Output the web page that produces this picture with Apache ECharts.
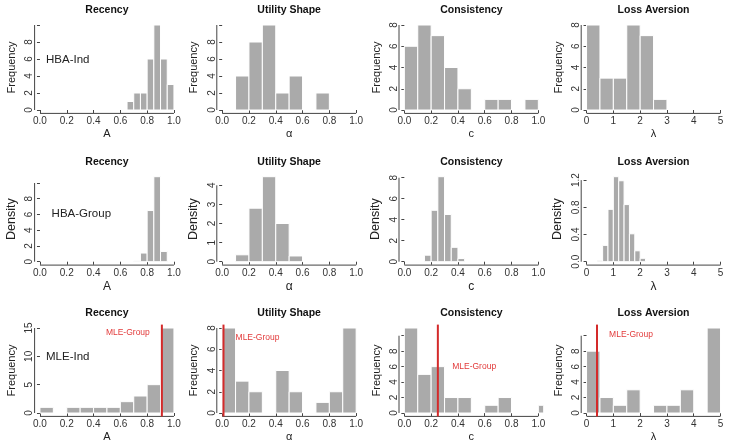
<!DOCTYPE html>
<html><head><meta charset="utf-8">
<script src="https://cdn.jsdelivr.net/npm/echarts@6/dist/echarts.min.js"></script>
<style>html,body{margin:0;padding:0;background:#fff}#c{width:729px;height:447px}</style>
</head><body><div id="c"></div>
<script>
// ---------- DATA ----------
const paramTitles = ['Recency', 'Utility Shape', 'Consistency', 'Loss Aversion'];
const paramSymbols = ['A', 'α', 'c', 'λ'];
const rowLabels = ['HBA-Ind', 'HBA-Group', 'MLE-Ind'];

const unitTicks = [0, 0.2, 0.4, 0.6, 0.8, 1.0];
const lambdaTicks = [0, 1, 2, 3, 4, 5];

// Row 1: HBA-Ind (frequency)
const hbaIndRecencyBreaks = [0.65, 0.70, 0.75, 0.80, 0.85, 0.90, 0.95, 1.00];
const hbaIndRecencyCounts = [1, 2, 2, 6, 10, 6, 3];
const hbaIndUtilityBreaks = [0.1, 0.2, 0.3, 0.4, 0.5, 0.6, 0.7, 0.8];
const hbaIndUtilityCounts = [4, 8, 10, 2, 4, 0, 2];
const hbaIndConsistBreaks = [0, 0.1, 0.2, 0.3, 0.4, 0.5, 0.6, 0.7, 0.8, 0.9, 1.0];
const hbaIndConsistCounts = [6, 8, 7, 4, 2, 0, 1, 1, 0, 1];
const hbaIndLossBreaks = [0, 0.5, 1.0, 1.5, 2.0, 2.5, 3.0];
const hbaIndLossCounts = [8, 3, 3, 8, 7, 1];

// Row 2: HBA-Group (density)
const hbaGrpRecencyBreaks = [0.70, 0.75, 0.80, 0.85, 0.90, 0.95];
const hbaGrpRecencyDens = [0.1, 1.1, 6.5, 10.8, 1.3];
const hbaGrpUtilityBreaks = [0.1, 0.2, 0.3, 0.4, 0.5, 0.6];
const hbaGrpUtilityDens = [0.36, 2.8, 4.45, 2.0, 0.3];
const hbaGrpConsistBreaks = [0.15, 0.20, 0.25, 0.30, 0.35, 0.40, 0.45];
const hbaGrpConsistDens = [0.62, 4.9, 8.1, 4.5, 1.37, 0.3];
const hbaGrpLossBreaks = [0.4, 0.6, 0.8, 1.0, 1.2, 1.4, 1.6, 1.8, 2.0, 2.2];
const hbaGrpLossDens = [0.02, 0.24, 0.77, 1.25, 1.19, 0.84, 0.41, 0.16, 0.05];

// Row 3: MLE-Ind (frequency) + MLE-Group estimate
const mleIndRecencyBreaks = [0, 0.1, 0.2, 0.3, 0.4, 0.5, 0.6, 0.7, 0.8, 0.9, 1.0];
const mleIndRecencyCounts = [1, 0, 1, 1, 1, 1, 2, 3, 5, 15];
const mleIndUtilityBreaks = [0, 0.1, 0.2, 0.3, 0.4, 0.5, 0.6, 0.7, 0.8, 0.9, 1.0];
const mleIndUtilityCounts = [8, 3, 2, 0, 4, 2, 0, 1, 2, 8];
const mleIndConsistBreaks = [0, 0.1, 0.2, 0.3, 0.4, 0.5, 0.6, 0.7, 0.8, 0.9, 1.0, 1.1];
const mleIndConsistCounts = [11, 5, 6, 2, 2, 0, 1, 2, 0, 0, 1];
const mleIndLossBreaks = [0, 0.5, 1.0, 1.5, 2.0, 2.5, 3.0, 3.5, 4.0, 4.5, 5.0];
const mleIndLossCounts = [8, 2, 1, 3, 0, 1, 1, 3, 0, 11];
const mleGroupValues = [0.91, 0.01, 0.25, 0.39];

// y tick sets [ticks, labelled ticks]
const yTicksR1 = [[[0,2,4,6,8,10],[0,2,4,6,8]], [[0,2,4,6,8,10],[0,2,4,6,8]], [[0,2,4,6,8],[0,2,4,6,8]], [[0,2,4,6,8],[0,2,4,6,8]]];
const yTicksR2 = [[[0,2,4,6,8,10],[0,2,4,6,8]], [[0,1,2,3,4],[0,1,2,3,4]], [[0,2,4,6,8],[0,2,4,6,8]], [[0,0.4,0.8,1.2],[0,0.4,0.8,1.2]]];
const yTicksR3 = [[[0,5,10,15],[0,5,10,15]], [[0,2,4,6,8],[0,2,4,6,8]], [[0,2,4,6,8,10],[0,2,4,6,8]], [[0,2,4,6,8,10],[0,2,4,6,8]]];

// ---------- LAYOUT ----------
const FONT = '"Liberation Sans", Arial, Helvetica, sans-serif';
const AX = '#444';
const BAR = '#aaaaaa';
const RED = '#d42a2a';
const gridTops = [21.6, 173.3, 324.6];
const gridH = 91.8, gridW = 144.7;
const gridLeft0 = 34.6, colStep = 182.2;

const rows = [
  {breaks: [hbaIndRecencyBreaks, hbaIndUtilityBreaks, hbaIndConsistBreaks, hbaIndLossBreaks],
   vals: [hbaIndRecencyCounts, hbaIndUtilityCounts, hbaIndConsistCounts, hbaIndLossCounts],
   yname: 'Frequency', yTicks: yTicksR1, ynameSize: 11, xnameSize: 11},
  {breaks: [hbaGrpRecencyBreaks, hbaGrpUtilityBreaks, hbaGrpConsistBreaks, hbaGrpLossBreaks],
   vals: [hbaGrpRecencyDens, hbaGrpUtilityDens, hbaGrpConsistDens, hbaGrpLossDens],
   yname: 'Density', yTicks: yTicksR2, ynameSize: 12.5, xnameSize: 12},
  {breaks: [mleIndRecencyBreaks, mleIndUtilityBreaks, mleIndConsistBreaks, mleIndLossBreaks],
   vals: [mleIndRecencyCounts, mleIndUtilityCounts, mleIndConsistCounts, mleIndLossCounts],
   yname: 'Frequency', yTicks: yTicksR3, ynameSize: 11, xnameSize: 11}
];

// text anchor positions in data coordinates
const rowLabelPos = [[0, 0.045, 5.9], [4, 0.087, 6.06], [8, 0.045, 9.9]];
const mleLabelPos = [[0.82, 14.1, 'right'], [0.10, 7.06, 'left'], [0.357, 6.0, 'left'], [0.84, 10.1, 'left']];

const grid = [], xAxis = [], yAxis = [], series = [], title = [];

rows.forEach((row, r) => {
  for (let c = 0; c < 4; c++) {
    const idx = r * 4 + c;
    const left = gridLeft0 + colStep * c;
    const top = gridTops[r];
    const xt = c === 3 ? lambdaTicks : unitTicks;
    const xr = xt[xt.length - 1] - xt[0];
    const xMin = xt[0] - 0.04 * xr, xMax = xt[xt.length - 1] + 0.04 * xr;
    const vmax = Math.max(...row.vals[c]);
    const yMin = -0.04 * vmax, yMax = 1.04 * vmax;
    const [yt, yl] = row.yTicks[c];
    const decX = c === 3 ? 0 : 1;
    const decY = (r === 1 && c === 3) ? 1 : 0;

    grid.push({left, top, width: gridW, height: gridH});
    title.push({text: paramTitles[c], left: left + gridW / 2, top: top - 16.5, textAlign: 'center', padding: 0,
      textStyle: {fontFamily: FONT, fontSize: 10.5, fontWeight: 'bold', color: '#111'}});
    xAxis.push({type: 'value', gridIndex: idx, min: xMin, max: xMax,
      name: paramSymbols[c], nameLocation: 'middle', nameGap: 15.5,
      nameTextStyle: {fontFamily: FONT, fontSize: row.xnameSize, color: '#222'},
      axisLine: {show: false}, splitLine: {show: false},
      axisTick: {show: true, length: 3, customValues: xt, lineStyle: {color: AX}},
      axisLabel: {show: true, customValues: xt, margin: 3, fontFamily: FONT, fontSize: 10, color: '#333',
        formatter: v => Number(v).toFixed(decX)}});
    yAxis.push({type: 'value', gridIndex: idx, min: yMin, max: yMax,
      name: row.yname, nameLocation: 'middle', nameGap: 17,
      nameTextStyle: {fontFamily: FONT, fontSize: row.ynameSize, color: '#222'},
      axisLine: {show: false}, splitLine: {show: false},
      axisTick: {show: true, length: 3, customValues: yt, lineStyle: {color: AX}},
      axisLabel: {show: true, customValues: yl, rotate: 90, margin: 0, fontFamily: FONT, fontSize: 10, color: '#333',
        formatter: v => Number(v).toFixed(decY)}});

    // histogram bars
    const br = row.breaks[c];
    const barData = row.vals[c].map((v, i) => [br[i], br[i + 1], v]).filter(d => d[2] > 0);
    series.push({type: 'custom', xAxisIndex: idx, yAxisIndex: idx, data: barData, silent: true,
      encode: {x: [0, 1], y: 2},
      renderItem: (params, api) => {
        const p0 = api.coord([api.value(0), 0]);
        const p1 = api.coord([api.value(1), api.value(2)]);
        const cs = params.coordSys;
        const rect = echarts.graphic.clipRectByRect(
          {x: p0[0], y: p1[1], width: p1[0] - p0[0], height: p0[1] - p1[1]},
          {x: cs.x, y: cs.y, width: cs.width, height: cs.height});
        return rect && {type: 'rect', shape: rect, style: {fill: BAR, stroke: '#fff', lineWidth: 1}};
      }});

    // axis lines (R style: from first to last tick)
    series.push({type: 'custom', xAxisIndex: idx, yAxisIndex: idx, data: [[xt[0], yt[0]]], silent: true, clip: false,
      renderItem: (params, api) => {
        const a = api.coord([xt[0], yMin]), b = api.coord([xt[xt.length - 1], yMin]);
        const d = api.coord([xMin, yt[0]]), e = api.coord([xMin, yt[yt.length - 1]]);
        return {type: 'group', children: [
          {type: 'line', shape: {x1: a[0], y1: a[1], x2: b[0], y2: b[1]}, style: {stroke: AX, lineWidth: 1}},
          {type: 'line', shape: {x1: d[0], y1: d[1], x2: e[0], y2: e[1]}, style: {stroke: AX, lineWidth: 1}}
        ]};
      }});

    // MLE-Group line and label
    if (r === 2) {
      const mv = mleGroupValues[c];
      const lp = mleLabelPos[c];
      series.push({type: 'custom', xAxisIndex: idx, yAxisIndex: idx, data: [[mv, lp[0], lp[1]]], silent: true, clip: false,
        renderItem: (params, api) => {
          const t = api.coord([api.value(0), yMax]), bt = api.coord([api.value(0), yMin]);
          const lt = api.coord([api.value(1), api.value(2)]);
          return {type: 'group', children: [
            {type: 'line', shape: {x1: t[0], y1: t[1], x2: bt[0], y2: bt[1]}, style: {stroke: RED, lineWidth: 2}},
            {type: 'text', x: lt[0], y: lt[1], style: {text: 'MLE-Group', fill: '#e23a3a', fontSize: 8.5, fontFamily: FONT,
              align: lp[2], verticalAlign: 'middle'}}
          ]};
        }});
    }
  }
});

// row labels
rowLabelPos.forEach((p, i) => {
  series.push({type: 'custom', xAxisIndex: p[0], yAxisIndex: p[0], data: [[p[1], p[2]]], silent: true, clip: false,
    renderItem: (params, api) => {
      const q = api.coord([api.value(0), api.value(1)]);
      return {type: 'text', x: q[0], y: q[1], style: {text: rowLabels[i], fill: '#222', fontSize: 11.5, fontFamily: FONT,
        align: 'left', verticalAlign: 'middle'}};
    }});
});

const chart = echarts.init(document.getElementById('c'), null, {renderer: 'canvas'});
chart.setOption({animation: false, backgroundColor: '#fff', title, grid, xAxis, yAxis, series});
</script>
</body></html>
